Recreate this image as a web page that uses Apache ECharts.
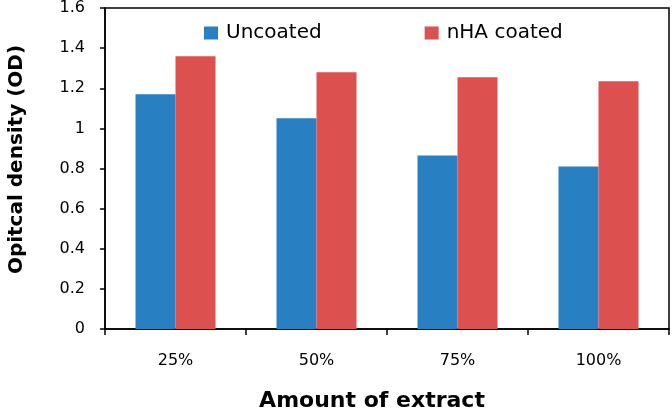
<!DOCTYPE html>
<html>
<head>
<meta charset="utf-8">
<script src="https://cdn.jsdelivr.net/npm/echarts@6/dist/echarts.min.js"></script>
<style>html,body{margin:0;padding:0;background:#fff;}#c{width:672px;height:412px;}</style>
</head>
<body>
<div id="c"></div>
<script>
var categories = ['25%', '50%', '75%', '100%'];
var uncoated = [1.17, 1.05, 0.865, 0.81];
var nhaCoated = [1.36, 1.28, 1.255, 1.235];
var yTicks = { min: 0, max: 1.6, interval: 0.2 };

var chart = echarts.init(document.getElementById('c'));
var font = 'DejaVu Sans';
chart.setOption({
  animation: false,
  backgroundColor: '#fff',
  grid: { left: 105, right: 3, top: 8, bottom: 83, show: true, borderColor: '#000', borderWidth: 1.5,
    containLabel: false, outerBoundsMode: 'none' },
  legend: {
    left: 204, top: 23, padding: 0, itemWidth: 14, itemHeight: 13, itemGap: 103,
    icon: 'rect',
    textStyle: { fontFamily: font, fontSize: 20, color: '#000', padding: [0, 0, 0, 3] },
    data: ['Uncoated', 'nHA coated']
  },
  xAxis: {
    type: 'category', data: categories,
    axisLine: { lineStyle: { color: '#000', width: 1.5 } },
    axisTick: { show: true, length: 6, lineStyle: { color: '#000', width: 1.5 } },
    axisLabel: { fontFamily: font, fontSize: 16, color: '#000', margin: 24 },
    name: 'Amount of extract', nameLocation: 'middle', nameGap: 61,
    nameTextStyle: { fontFamily: font, fontSize: 22, fontWeight: 'bold', color: '#000', padding: [0, 30, 0, 0] }
  },
  yAxis: {
    type: 'value', min: yTicks.min, max: yTicks.max, interval: yTicks.interval,
    axisLine: { show: true, lineStyle: { color: '#000', width: 1.5 } },
    axisTick: { show: true, length: 5, lineStyle: { color: '#000', width: 1.5 } },
    splitLine: { show: false },
    axisLabel: { fontFamily: font, fontSize: 16, color: '#000', margin: 20,
      formatter: function (v) { return String(Math.round(v * 10) / 10); } },
    name: 'Opitcal density (OD)', nameLocation: 'middle', nameGap: 78,
    nameTextStyle: { fontFamily: font, fontSize: 20, fontWeight: 'bold', color: '#000', padding: [0, 0, 0, 18] }
  },
  series: [
    { name: 'Uncoated', type: 'bar', data: uncoated, barWidth: 40, barGap: '0%', itemStyle: { color: '#2880c2' } },
    { name: 'nHA coated', type: 'bar', data: nhaCoated, barWidth: 40, barGap: '0%', itemStyle: { color: '#dd5050' } }
  ]
});
</script>
</body>
</html>
